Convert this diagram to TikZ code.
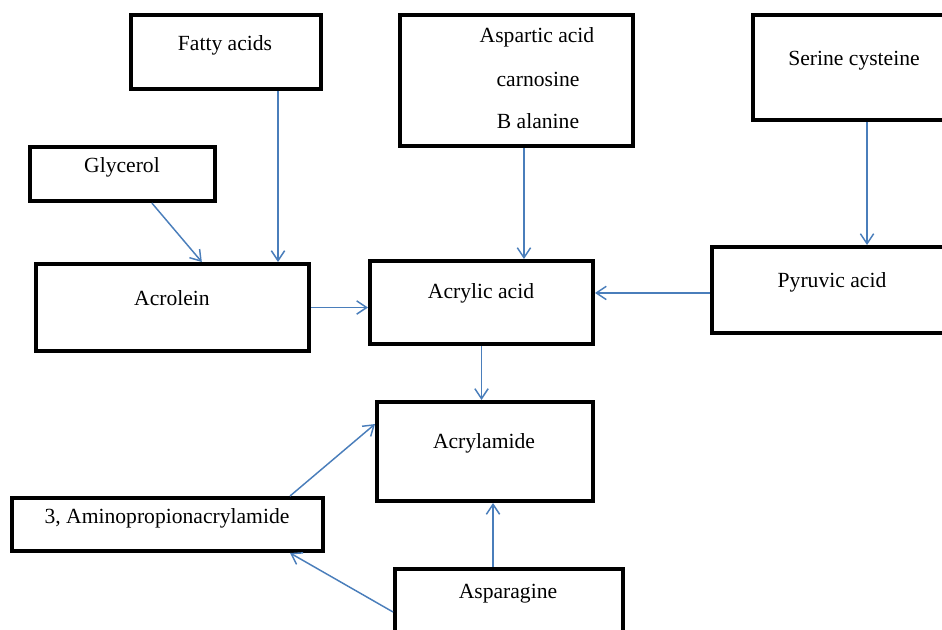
\documentclass[tikz,border=0pt]{standalone}
\usepackage{fontspec}
\setmainfont{Liberation Serif}
\usetikzlibrary{arrows.meta}
\definecolor{arrowblue}{RGB}{74,126,187}
\begin{document}
\begin{tikzpicture}[x=0.75pt, y=-0.75pt,
  box/.style={draw, line width=3pt, inner sep=0pt},
  lbl/.style={anchor=base, inner sep=0pt, font=\fontsize{16.2}{19}\selectfont},
  arr/.style={-{Straight Barb[length=7.5pt,width=10pt]}, line width=1.1pt, arrowblue}]
\clip (0,0) rectangle (942,629);
% Sources
\node[box, minimum width=142.5pt, minimum height=55.5pt] (fatty) at (226,52) {};
\node[lbl] (fatty-t) at (225,50) {Fatty acids};
\node[box, minimum width=138.75pt, minimum height=40.5pt] (glycerol) at (122.5,174) {};
\node[lbl] (glycerol-t) at (122,172) {Glycerol};
\node[box, minimum width=174.75pt, minimum height=98.25pt] (aspartic) at (516.5,80.5) {};
\node[lbl] (aspartic-t1) at (537,42) {Aspartic acid};
\node[lbl] (aspartic-t2) at (538,86) {carnosine};
\node[lbl] (aspartic-t3) at (538,128) {B alanine};
\node[box, minimum width=185.25pt, minimum height=78.75pt] (serine) at (876.5,67.5) {};
\node[lbl] (serine-t) at (854,65) {Serine cysteine};
% Intermediates
\node[box, minimum width=204.75pt, minimum height=65.25pt] (acrolein) at (172.5,307.5) {};
\node[lbl] (acrolein-t) at (172,305) {Acrolein};
\node[box, minimum width=167.25pt, minimum height=62.25pt] (acrylic) at (481.5,302.5) {};
\node[lbl] (acrylic-t) at (481,298) {Acrylic acid};
\node[box, minimum width=216pt, minimum height=64.5pt] (pyruvic) at (856,290) {};
\node[lbl] (pyruvic-t) at (832,287) {Pyruvic acid};
% Product
\node[box, minimum width=162pt, minimum height=74.25pt] (acrylamide) at (485,451.5) {};
\node[lbl] (acrylamide-t) at (484,448) {Acrylamide};
\node[box, minimum width=233.25pt, minimum height=39.75pt] (amino) at (167.5,524.5) {};
\node[lbl] (amino-t) at (167,523) {3, Aminopropionacrylamide};
\node[box, minimum width=171pt, minimum height=83.25pt] (asparagine) at (509,624.5) {};
\node[lbl] (asparagine-t) at (508,598) {Asparagine};
% Arrows
\draw[arr] ([xshift=39pt]fatty.south) -- ([xshift=39pt]fatty.south |- acrolein.north);
\draw[arr] ([xshift=22pt]glycerol.south) -- ([xshift=22pt]acrolein.north);
\draw[arr] (acrolein.east) -- (acrolein.east -| acrylic.west);
\draw[arr] ([xshift=5.6pt]aspartic.south) -- ([xshift=5.6pt]aspartic.south |- acrylic.north);
\draw[arr] ([xshift=-7.1pt]serine.south) -- ([xshift=-7.1pt]serine.south |- pyruvic.north);
\draw[arr] ([yshift=-2.2pt]pyruvic.west) -- ([yshift=-2.2pt]pyruvic.west -| acrylic.east);
\draw[arr] (acrylic.south) -- (acrylic.south |- acrylamide.north);
\draw[arr] ([xshift=-12pt]asparagine.north) -- ([xshift=-12pt]asparagine.north |- acrylamide.south);
\draw[arr] ([xshift=91.9pt]amino.north) -- ([yshift=20.6pt]acrylamide.west);
\draw[arr] ([yshift=9.4pt]asparagine.west) -- ([xshift=91.9pt]amino.south);
\end{tikzpicture}
\end{document}
